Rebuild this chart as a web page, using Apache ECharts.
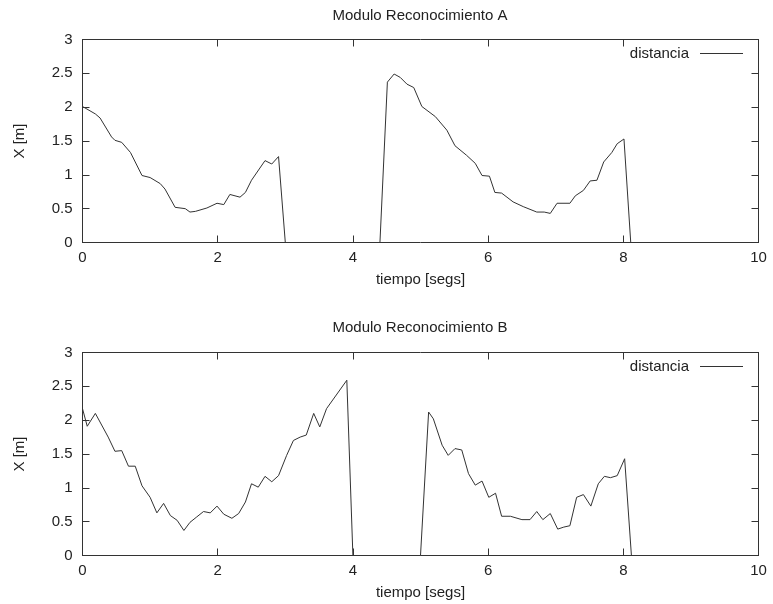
<!DOCTYPE html>
<html>

<head>
    <meta charset="UTF-8">
    <title>Modulo Reconocimiento</title>
    <script type="text/javascript" src="https://cdn.jsdelivr.net/npm/echarts@6/dist/echarts.min.js"></script>
</head>

<body style="margin: 0;padding: 0;background: #fff;">
    <div id="container" style="width:773px; height:604px;"></div>
    <script>
        // datos
        var titulos = ["Modulo Reconocimiento A", "Modulo Reconocimiento B"];
        var nombreSerie = "distancia";

        var tiempoA = [0, 0.19, 0.26, 0.43, 0.48, 0.58, 0.71, 0.88, 1.0, 1.15,
            1.22, 1.37, 1.52, 1.59, 1.67, 1.84, 1.99, 2.09, 2.18, 2.33,
            2.41, 2.5, 2.7, 2.8, 2.9, 3.0,
            4.4, 4.51, 4.61, 4.7, 4.8, 4.9, 5.02, 5.22, 5.39, 5.51,
            5.68, 5.81, 5.91, 6.02, 6.1, 6.2, 6.37, 6.52, 6.72, 6.83,
            6.92, 7.02, 7.21, 7.29, 7.41, 7.51, 7.61, 7.71, 7.83, 7.91,
            8.01, 8.11];
        var distanciaA = [2.01, 1.90, 1.84, 1.56, 1.51, 1.48, 1.33, 0.99, 0.96, 0.87,
            0.79, 0.52, 0.50, 0.45, 0.46, 0.51, 0.58, 0.56, 0.71, 0.67,
            0.74, 0.92, 1.21, 1.16, 1.27, 0,
            0, 2.37, 2.49, 2.44, 2.34, 2.29, 2.01, 1.86, 1.66, 1.43,
            1.29, 1.17, 0.99, 0.98, 0.74, 0.73, 0.60, 0.53, 0.45, 0.45,
            0.43, 0.58, 0.58, 0.69, 0.77, 0.91, 0.92, 1.19, 1.33, 1.46,
            1.53, 0];

        var tiempoB = [0, 0.07, 0.19, 0.38, 0.48, 0.58, 0.68, 0.78, 0.88, 1.0,
            1.10, 1.20, 1.30, 1.40, 1.50, 1.59, 1.69, 1.79, 1.89, 1.99,
            2.09, 2.21, 2.31, 2.41, 2.50, 2.60, 2.70, 2.80, 2.90, 3.02,
            3.12, 3.22, 3.31, 3.42, 3.51, 3.61, 3.91, 4.0,
            5.0, 5.12, 5.19, 5.32, 5.41, 5.51, 5.61, 5.71, 5.81, 5.91,
            6.01, 6.11, 6.20, 6.33, 6.50, 6.62, 6.72, 6.81, 6.92, 7.03,
            7.12, 7.21, 7.31, 7.41, 7.52, 7.63, 7.72, 7.81, 7.91, 8.02,
            8.12];
        var distanciaB = [2.17, 1.91, 2.10, 1.75, 1.54, 1.55, 1.32, 1.32, 1.03, 0.86,
            0.63, 0.77, 0.59, 0.52, 0.37, 0.49, 0.57, 0.65, 0.63, 0.73,
            0.61, 0.55, 0.62, 0.79, 1.06, 1.01, 1.17, 1.09, 1.18, 1.48,
            1.70, 1.75, 1.78, 2.10, 1.90, 2.17, 2.59, 0,
            0, 2.12, 2.02, 1.63, 1.48, 1.58, 1.56, 1.21, 1.04, 1.10,
            0.86, 0.92, 0.58, 0.58, 0.53, 0.53, 0.65, 0.53, 0.62, 0.39,
            0.42, 0.44, 0.86, 0.90, 0.73, 1.06, 1.17, 1.15, 1.18, 1.43,
            0];

        var xMin = 0, xMax = 10, xPaso = 2;
        var yMin = 0, yMax = 3, yPaso = 0.5;

        var fuente = "'Liberation Sans', Arial, sans-serif";
        var colorMarco = "#333";
        var colorTexto = "#222";

        function pares(t, v) {
            return t.map((x, i) => [x, v[i]]);
        }

        // eje con marco y marcas hacia adentro (estilo gnuplot)
        function ejeX(grid, pos, nombre) {
            return {
                type: "value", gridIndex: grid, position: pos, z: 3,
                min: xMin, max: xMax, interval: xPaso,
                name: nombre, nameLocation: "middle", nameGap: 30,
                nameTextStyle: { fontFamily: fuente, fontSize: 15, color: colorTexto },
                axisLine: { show: true, onZero: false, lineStyle: { color: colorMarco, width: 1 } },
                axisTick: { show: true, inside: true, length: 7, lineStyle: { color: colorMarco } },
                axisLabel: { show: pos === "bottom", margin: 8, fontFamily: fuente, fontSize: 15, color: colorTexto },
                splitLine: { show: false }
            };
        }

        function ejeY(grid, pos, nombre) {
            return {
                type: "value", gridIndex: grid, position: pos, z: 3,
                min: yMin, max: yMax, interval: yPaso,
                name: nombre, nameLocation: "middle", nameGap: 55, nameRotate: 90,
                nameTextStyle: { fontFamily: fuente, fontSize: 15, color: colorTexto },
                axisLine: { show: true, onZero: false, lineStyle: { color: colorMarco, width: 1 } },
                axisTick: { show: true, inside: true, length: 7, lineStyle: { color: colorMarco } },
                axisLabel: { show: pos === "left", margin: 10, fontFamily: fuente, fontSize: 15, color: colorTexto },
                splitLine: { show: false }
            };
        }

        function serie(i, t, v) {
            return {
                type: "line", name: nombreSerie, z: 1,
                xAxisIndex: i * 2, yAxisIndex: i * 2,
                data: pares(t, v),
                symbol: "none", showSymbol: false,
                lineStyle: { color: "#333", width: 1 },
                itemStyle: { color: "#333" }
            };
        }

        function leyenda(arriba) {
            return {
                data: [nombreSerie], right: 30, top: arriba, padding: 0, align: "right",
                icon: "rect", itemWidth: 43, itemHeight: 1,
                itemStyle: { color: "#333" },
                textStyle: { fontFamily: fuente, fontSize: 15, color: colorTexto, padding: [0, 6, 0, 0] }
            };
        }

        var chart = echarts.init(document.getElementById("container"), null, { renderer: "canvas" });

        var option = {
            animation: false,
            backgroundColor: "#fff",
            title: [
                { text: titulos[0], left: 420, top: 8, textAlign: "center", textVerticalAlign: "top", padding: 0,
                  textStyle: { fontFamily: fuente, fontSize: 15, fontWeight: "normal", color: colorTexto } },
                { text: titulos[1], left: 420, top: 320, textAlign: "center", textVerticalAlign: "top", padding: 0,
                  textStyle: { fontFamily: fuente, fontSize: 15, fontWeight: "normal", color: colorTexto } }
            ],
            legend: [leyenda(46), leyenda(359)],
            grid: [
                { left: 82.5, width: 676, top: 39.5, height: 203 },
                { left: 82.5, width: 676, top: 352.5, height: 203 }
            ],
            xAxis: [
                ejeX(0, "bottom", "tiempo [segs]"), ejeX(0, "top", ""),
                ejeX(1, "bottom", "tiempo [segs]"), ejeX(1, "top", "")
            ],
            yAxis: [
                ejeY(0, "left", "X [m]"), ejeY(0, "right", ""),
                ejeY(1, "left", "X [m]"), ejeY(1, "right", "")
            ],
            series: [
                serie(0, tiempoA, distanciaA),
                serie(1, tiempoB, distanciaB)
            ]
        };
        chart.setOption(option);
    </script>
</body>

</html>
